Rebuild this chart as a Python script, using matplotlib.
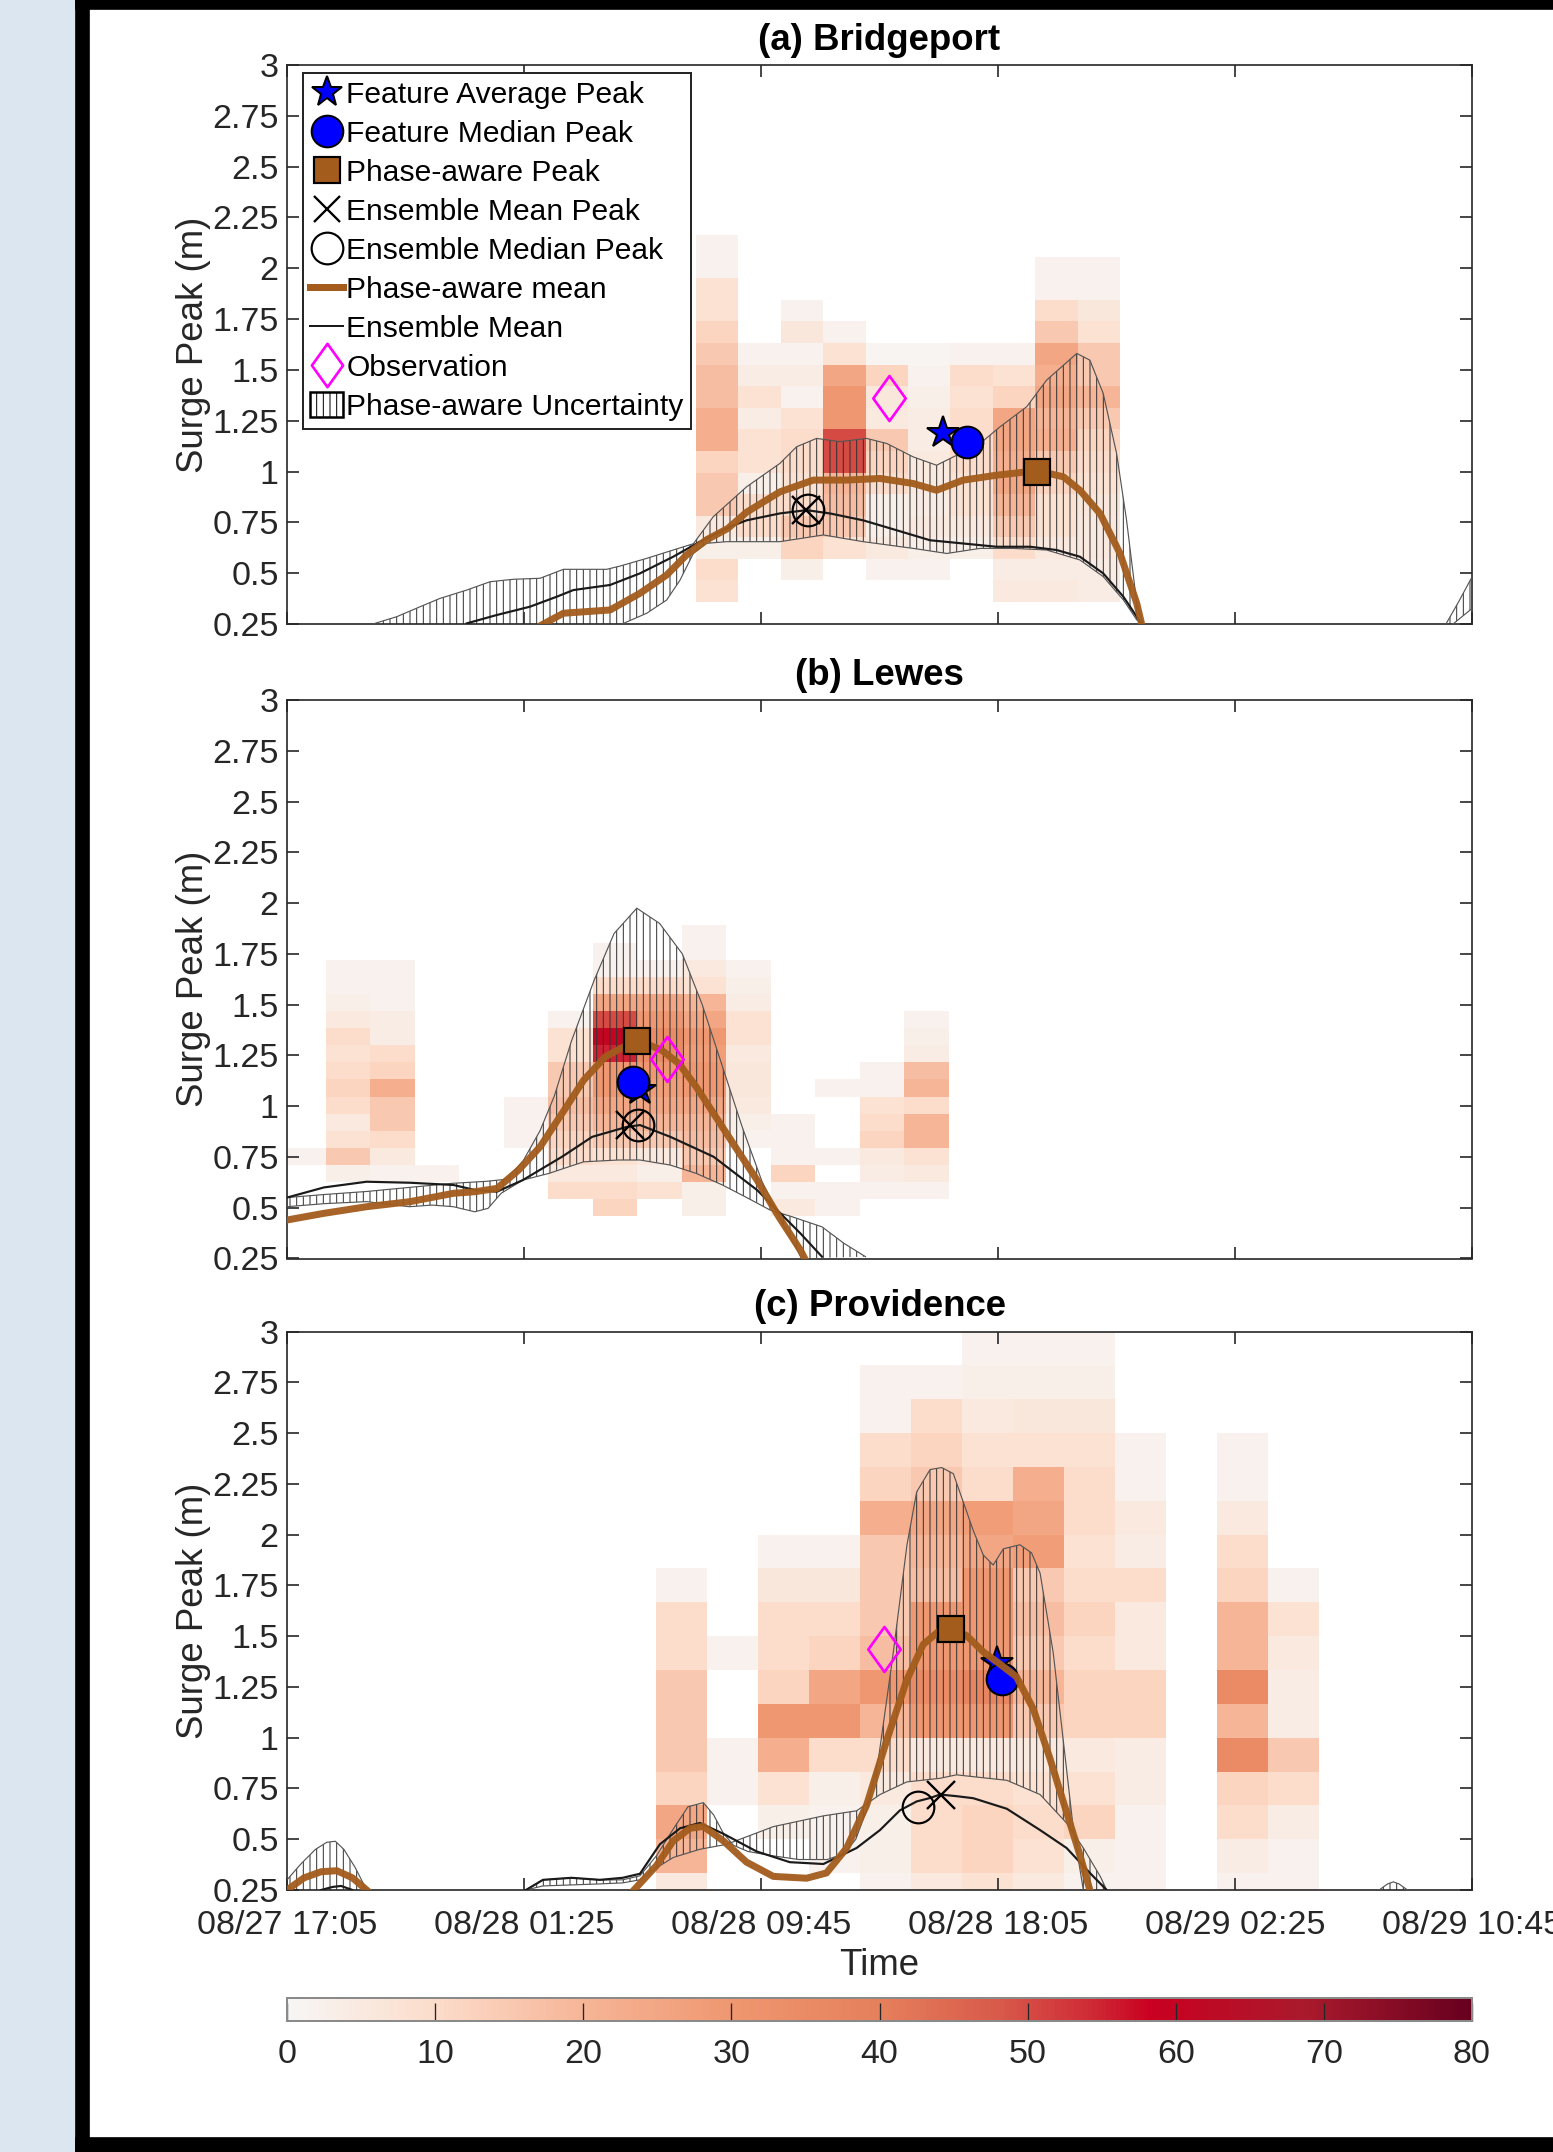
import numpy as np
import matplotlib
matplotlib.use('Agg')
import matplotlib.pyplot as plt
from matplotlib.colors import LinearSegmentedColormap, Normalize
from matplotlib.patches import Rectangle, Patch
from matplotlib.lines import Line2D
from matplotlib.path import Path
from matplotlib.cm import ScalarMappable

plt.rcParams['font.family'] = ['Liberation Sans', 'DejaVu Sans']
plt.rcParams['hatch.linewidth'] = 0.6

# time axis in hours after 08/27 17:05
time_ticks = [0, 8.3333, 16.6667, 25.0, 33.3333, 41.6667]
time_labels = ['08/27 17:05', '08/28 01:25', '08/28 09:45', '08/28 18:05', '08/29 02:25', '08/29 10:45']
y_ticks = [0.25, 0.5, 0.75, 1, 1.25, 1.5, 1.75, 2, 2.25, 2.5, 2.75, 3]
y_labels = ['0.25', '0.5', '0.75', '1', '1.25', '1.5', '1.75', '2', '2.25', '2.5', '2.75', '3']

# ---------------- (a) Bridgeport ----------------
a_xedges = 14.38 + 1.491 * np.arange(11)
a_yedges = 0.358 + 0.1062 * np.arange(18)
a_counts = [  # rows top -> bottom
    [2, 0, 0, 0, 0, 0, 0, 0, 0, 0],
    [2, 0, 0, 0, 0, 0, 0, 0, 2, 2],
    [8, 0, 0, 0, 0, 0, 0, 0, 2, 2],
    [8, 0, 2, 0, 0, 0, 0, 0, 10, 6],
    [12, 0, 6, 2, 0, 0, 0, 0, 15, 8],
    [15, 2, 2, 8, 1, 1, 2, 2, 25, 15],
    [18, 4, 4, 25, 12, 2, 10, 8, 22, 15],
    [18, 8, 2, 30, 6, 3, 8, 12, 25, 20],
    [22, 4, 8, 30, 5, 4, 10, 25, 20, 15],
    [22, 8, 10, 50, 15, 4, 10, 25, 22, 12],
    [12, 8, 10, 50, 12, 5, 10, 22, 15, 10],
    [15, 3, 8, 20, 10, 5, 8, 25, 12, 8],
    [15, 10, 10, 18, 3, 4, 8, 20, 8, 6],
    [5, 10, 15, 15, 3, 5, 5, 15, 8, 5],
    [3, 3, 12, 8, 5, 3, 3, 10, 5, 5],
    [10, 0, 3, 0, 2, 2, 0, 4, 4, 4],
    [8, 0, 0, 0, 0, 0, 0, 5, 5, 4],
]
a_ub_x = [3.09, 3.86, 4.68, 5.38, 6.32, 7.14, 7.96, 8.90, 9.72, 11.24, 11.71, 12.65, 13.58, 14.29, 14.99,
          16.16, 17.33, 17.92, 18.62, 19.44, 20.38, 21.09, 22.02, 22.84, 23.43, 24.37, 25.07, 26.01, 26.71,
          27.77, 28.23, 28.70, 29.17, 29.52, 29.88, 30.10]
a_ub_y = [0.253, 0.286, 0.335, 0.376, 0.417, 0.458, 0.470, 0.475, 0.519, 0.519, 0.535, 0.573, 0.614, 0.645,
          0.778, 0.925, 1.040, 1.122, 1.163, 1.147, 1.163, 1.138, 1.072, 1.031, 1.072, 1.138, 1.220, 1.319,
          1.450, 1.581, 1.548, 1.384, 1.089, 0.761, 0.351, 0.250]
a_lb_x = [3.09, 4.0, 11.0, 11.83, 12.65, 13.35, 13.82, 14.29, 14.76, 15.46, 17.33, 18.86, 20.26, 22.02,
          23.20, 24.37, 25.54, 26.71, 27.88, 28.70, 29.41, 29.88, 30.10]
a_lb_y = [0.240, 0.200, 0.200, 0.253, 0.303, 0.368, 0.466, 0.598, 0.647, 0.655, 0.655, 0.688, 0.655, 0.622,
          0.597, 0.622, 0.622, 0.614, 0.565, 0.483, 0.368, 0.270, 0.250]
a_ub2_x = [40.75, 41.2, 41.7]
a_ub2_y = [0.25, 0.36, 0.49]
a_lb2_x = [41.0, 41.7]
a_lb2_y = [0.25, 0.33]
a_brown_x = [8.95, 9.72, 11.36, 12.41, 13.35, 14.05, 14.76, 15.50, 16.16, 17.33, 18.51, 19.68, 20.85, 22.02,
             22.84, 23.78, 24.95, 26.36, 27.30, 27.88, 28.59, 29.29, 29.88, 30.05]
a_brown_y = [0.245, 0.303, 0.319, 0.401, 0.491, 0.590, 0.665, 0.720, 0.800, 0.900, 0.958, 0.958, 0.966, 0.941,
             0.908, 0.958, 0.982, 1.004, 0.974, 0.908, 0.793, 0.597, 0.351, 0.250]
a_black_x = [6.32, 7.37, 8.54, 9.48, 10.07, 11.36, 12.41, 13.58, 14.52, 15.58, 16.16, 17.33, 18.27, 19.09,
             20.26, 21.44, 22.61, 23.78, 24.95, 26.13, 27.06, 27.88, 28.70, 29.41, 30.05]
a_black_y = [0.253, 0.294, 0.335, 0.384, 0.417, 0.442, 0.499, 0.581, 0.655, 0.729, 0.760, 0.794, 0.810, 0.794,
             0.760, 0.711, 0.662, 0.646, 0.630, 0.630, 0.614, 0.581, 0.499, 0.384, 0.250]
a_pts = dict(feat_avg=(23.08, 1.188), feat_med=(23.9, 1.147), pa_peak=(26.36, 1.0),
             ens_mean=(18.25, 0.81), ens_med=(18.33, 0.81), obs=(21.18, 1.36))

# ---------------- (b) Lewes ----------------
b_xedges = -0.212 + 1.566 * np.arange(16)
b_yedges = 0.457 + 0.0843 * np.arange(18)
b_counts = [
    [0, 0, 0, 0, 0, 0, 0, 0, 0, 2, 0, 0, 0, 0, 0],
    [0, 0, 0, 0, 0, 0, 0, 2, 0, 2, 0, 0, 0, 0, 0],
    [0, 2, 2, 0, 0, 0, 0, 2, 2, 5, 2, 0, 0, 0, 0],
    [0, 2, 2, 0, 0, 0, 0, 10, 10, 8, 3, 0, 0, 0, 0],
    [0, 3, 2, 0, 0, 0, 0, 25, 25, 20, 4, 0, 0, 0, 0],
    [0, 5, 4, 0, 0, 0, 2, 50, 30, 25, 8, 0, 0, 0, 2],
    [0, 10, 4, 0, 0, 0, 8, 60, 35, 30, 8, 0, 0, 0, 3],
    [0, 8, 10, 0, 0, 0, 8, 55, 35, 28, 5, 0, 0, 0, 4],
    [0, 10, 12, 0, 0, 0, 15, 30, 30, 30, 6, 0, 0, 2, 18],
    [0, 12, 22, 0, 0, 0, 15, 30, 28, 30, 6, 0, 2, 2, 20],
    [0, 10, 15, 0, 0, 2, 18, 25, 25, 25, 5, 0, 0, 8, 10],
    [0, 5, 15, 0, 0, 2, 15, 20, 20, 20, 3, 2, 0, 10, 20],
    [0, 8, 10, 0, 0, 2, 12, 15, 15, 18, 2, 2, 0, 12, 20],
    [2, 15, 5, 0, 0, 0, 10, 8, 5, 15, 0, 2, 2, 5, 8],
    [0, 3, 2, 2, 0, 0, 5, 5, 3, 20, 0, 12, 0, 4, 5],
    [0, 0, 0, 0, 0, 0, 10, 10, 8, 3, 0, 2, 2, 2, 2],
    [0, 0, 0, 0, 0, 0, 0, 12, 0, 3, 0, 5, 2, 0, 0],
]
b_ub_x = [0.0, 1.3, 2.8, 4.3, 5.8, 7.0, 7.7, 8.3, 8.9, 9.4, 10.0, 10.8, 11.5, 12.3, 13.1, 13.9, 14.6, 15.3,
          16.0, 16.7, 17.4, 18.1]
b_ub_y = [0.55, 0.565, 0.58, 0.60, 0.62, 0.63, 0.64, 0.73, 0.88, 1.05, 1.32, 1.62, 1.85, 1.975, 1.90, 1.75,
          1.50, 1.20, 0.90, 0.63, 0.43, 0.25]
b_lb_x = [0.0, 1.3, 2.8, 4.3, 5.1, 5.85, 6.6, 7.07, 7.53, 8.29, 9.21, 10.43, 11.65, 12.41, 13.48, 14.39,
          15.31, 16.22, 16.98, 17.75, 18.81, 19.58, 20.34]
b_lb_y = [0.505, 0.52, 0.53, 0.505, 0.513, 0.505, 0.48, 0.497, 0.571, 0.636, 0.669, 0.726, 0.735, 0.735,
          0.71, 0.669, 0.612, 0.546, 0.489, 0.456, 0.406, 0.325, 0.259]
b_brown_x = [-0.02, 1.28, 2.80, 4.33, 5.85, 6.62, 7.38, 8.14, 8.90, 9.67, 10.43, 11.19, 11.95, 12.33, 13.17,
             13.78, 14.39, 15.0, 15.76, 16.53, 17.29, 18.05, 18.20]
b_brown_y = [0.439, 0.472, 0.505, 0.53, 0.571, 0.579, 0.595, 0.685, 0.80, 0.964, 1.128, 1.243, 1.30, 1.325,
             1.276, 1.21, 1.095, 0.964, 0.80, 0.636, 0.456, 0.292, 0.251]
b_black_x = [0.0, 1.3, 2.8, 4.33, 5.85, 6.62, 7.38, 8.29, 9.67, 10.73, 11.95, 12.41, 13.48, 15.0, 16.53,
             18.05, 18.81]
b_black_y = [0.55, 0.60, 0.628, 0.623, 0.612, 0.587, 0.579, 0.636, 0.751, 0.849, 0.898, 0.907, 0.849, 0.751,
             0.587, 0.374, 0.259]
b_pts = dict(feat_avg=(12.4, 1.08), feat_med=(12.18, 1.12), pa_peak=(12.3, 1.32),
             ens_mean=(12.05, 0.905), ens_med=(12.33, 0.905), obs=(13.36, 1.233))

# ---------------- (c) Providence ----------------
c_xedges = 12.97 + 1.794 * np.arange(14)
c_yedges = np.arange(1, 19) / 6.0
c_counts = [
    [0, 0, 0, 0, 0, 0, 2, 2, 2, 0, 0, 0, 0],
    [0, 0, 0, 0, 2, 2, 3, 3, 3, 0, 0, 0, 0],
    [0, 0, 0, 0, 2, 10, 5, 6, 6, 0, 0, 0, 0],
    [0, 0, 0, 0, 10, 12, 8, 8, 8, 2, 0, 2, 0],
    [0, 0, 0, 0, 12, 15, 10, 22, 10, 2, 0, 2, 0],
    [0, 0, 0, 0, 22, 25, 28, 25, 10, 5, 0, 5, 0],
    [0, 0, 2, 2, 15, 20, 25, 28, 8, 4, 0, 10, 0],
    [2, 0, 6, 6, 15, 18, 30, 15, 10, 10, 0, 12, 2],
    [10, 0, 10, 10, 15, 30, 30, 18, 12, 5, 0, 20, 8],
    [10, 2, 10, 12, 18, 30, 30, 15, 10, 5, 0, 20, 5],
    [15, 0, 12, 25, 30, 35, 38, 20, 12, 12, 0, 35, 4],
    [15, 0, 30, 30, 20, 30, 30, 15, 12, 12, 0, 20, 4],
    [15, 2, 22, 10, 10, 5, 5, 5, 5, 4, 0, 35, 15],
    [12, 2, 8, 3, 5, 10, 10, 8, 8, 4, 0, 12, 10],
    [25, 0, 3, 2, 3, 10, 12, 10, 12, 2, 0, 10, 4],
    [20, 0, 0, 2, 3, 10, 12, 8, 3, 2, 0, 4, 2],
    [5, 0, 0, 0, 2, 5, 8, 5, 2, 2, 0, 2, 2],
]
c_ub1_x = [0.0, 0.5, 1.0, 1.4, 1.7, 2.0, 2.4, 2.8]
c_ub1_y = [0.30, 0.38, 0.45, 0.485, 0.49, 0.45, 0.36, 0.25]
c_lb1_x = [0.0, 1.4, 2.8]
c_lb1_y = [0.22, 0.22, 0.22]
c_ub_x = [8.4, 9.0, 10.0, 11.0, 11.8, 12.41, 13.0, 13.58, 14.1, 14.64, 15.0, 15.34, 15.7, 16.2, 17.0, 18.0,
          19.0, 19.6, 20.0, 20.4, 20.8, 21.3, 21.8, 22.14, 22.61, 23.02, 23.43, 23.78, 24.13, 24.48, 24.83,
          25.19, 25.77, 26.18, 26.48, 26.94, 27.3, 27.65, 28.0]
c_ub_y = [0.25, 0.30, 0.31, 0.30, 0.30, 0.32, 0.42, 0.55, 0.66, 0.68, 0.62, 0.53, 0.47, 0.44, 0.42, 0.40,
          0.40, 0.43, 0.50, 0.65, 0.90, 1.40, 1.95, 2.21, 2.32, 2.33, 2.30, 2.16, 2.02, 1.90, 1.85, 1.93,
          1.95, 1.91, 1.81, 1.42, 0.98, 0.55, 0.25]
c_lb_x = [8.4, 9.0, 10.0, 11.0, 11.8, 12.41, 13.0, 13.58, 14.5, 15.46, 17.1, 18.86, 20.03, 20.85, 21.79,
          22.96, 23.54, 24.13, 25.31, 26.48, 27.41, 28.0, 28.6, 28.82]
c_lb_y = [0.25, 0.27, 0.275, 0.28, 0.285, 0.30, 0.36, 0.41, 0.45, 0.475, 0.562, 0.615, 0.64, 0.72, 0.782,
          0.80, 0.817, 0.808, 0.79, 0.72, 0.58, 0.457, 0.316, 0.25]
c_ub3_x = [38.4, 38.7, 38.9, 39.1, 39.4]
c_ub3_y = [0.25, 0.28, 0.29, 0.28, 0.25]
c_lb3_x = [38.4, 39.4]
c_lb3_y = [0.25, 0.25]
c_brown_x = [0.0, 0.6, 1.2, 1.75, 2.3, 2.8, np.nan,
             12.2, 12.99, 13.58, 14.17, 14.64, 15.34, 16.16, 17.10, 18.27, 18.97, 19.68, 20.38, 21.08, 21.79,
             22.37, 22.96, 23.43, 23.90, 24.48, 25.07, 25.65, 26.24, 26.83, 27.41, 27.88, 28.23]
c_brown_y = [0.25, 0.31, 0.34, 0.345, 0.31, 0.25, np.nan,
             0.25, 0.37, 0.492, 0.554, 0.563, 0.492, 0.387, 0.317, 0.308, 0.334, 0.457, 0.668, 0.984, 1.283,
             1.459, 1.529, 1.535, 1.502, 1.423, 1.362, 1.30, 1.142, 0.896, 0.633, 0.422, 0.25]
c_black_x = [1.2, 1.6, 1.9, 2.3, np.nan,
             8.4, 9.0, 10.0, 11.0, 11.8, 12.41, 13.11, 13.82, 14.52, 15.34, 16.51, 17.68, 18.86, 20.03, 20.85,
             21.55, 22.14, 22.61, 22.96, 23.54, 24.13, 25.31, 26.48, 27.41, 28.23, 28.82]
c_black_y = [0.25, 0.265, 0.27, 0.25, np.nan,
             0.25, 0.30, 0.31, 0.30, 0.31, 0.33, 0.475, 0.554, 0.58, 0.527, 0.44, 0.387, 0.378, 0.457, 0.545,
             0.642, 0.686, 0.703, 0.72, 0.712, 0.702, 0.65, 0.545, 0.457, 0.334, 0.25]
c_pts = dict(feat_avg=(24.95, 1.37), feat_med=(25.13, 1.29), pa_peak=(23.35, 1.535),
             ens_mean=(23.0, 0.72), ens_med=(22.2, 0.66), obs=(21.0, 1.436))

# colours
brown = '#a35c1c'
magenta = '#ff00ff'
cmap = LinearSegmentedColormap.from_list('surge', [
    (0.0, '#f7f6f5'), (0.125, '#fcdcca'), (0.25, '#f6b597'), (0.375, '#ef9770'),
    (0.5, '#e5805c'), (0.6, '#d85a4a'), (0.68, '#cf2a36'), (0.73, '#c90020'),
    (0.86, '#aa1a2c'), (1.0, '#67001f')])
norm = Normalize(0, 80)
diamond = Path([(0, 1), (0.72, 0), (0, -1), (-0.72, 0), (0, 1)],
               [Path.MOVETO, Path.LINETO, Path.LINETO, Path.LINETO, Path.CLOSEPOLY])

W, H = 1553, 2152
fig = plt.figure(figsize=(W / 120, H / 120), dpi=120)
fig.patch.set_facecolor('white')
# page frame
fig.patches.append(Rectangle((0, 0), 76 / W, 1, transform=fig.transFigure, color='#dce6f1', zorder=-5))
fig.patches.append(Rectangle((76 / W, 0), 13 / W, 1, transform=fig.transFigure, color='black', zorder=-4))
fig.patches.append(Rectangle((76 / W, 1 - 9 / H), 1, 9 / H, transform=fig.transFigure, color='black', zorder=-4))
fig.patches.append(Rectangle((76 / W, 0), 1, 14 / H, transform=fig.transFigure, color='black', zorder=-4))


def band(ax, ux, uy, lx, ly):
    px = np.concatenate([ux, lx[::-1]])
    py = np.concatenate([uy, ly[::-1]])
    ax.fill(px, py, facecolor='none', edgecolor='#333333', hatch='|||', linewidth=0, zorder=2)
    ax.plot(ux, uy, color='#555555', lw=0.7, zorder=3)
    ax.plot(lx, ly, color='#555555', lw=0.7, zorder=3)


def panel(rect, title, xe, ye, counts, bands, bx, by, kx, ky, pts, xlabels):
    ax = fig.add_axes(rect)
    c = np.flipud(np.array(counts, dtype=float))
    ax.pcolormesh(xe, ye, np.ma.masked_equal(c, 0), cmap=cmap, norm=norm, zorder=1)
    for ux, uy, lx, ly in bands:
        band(ax, ux, uy, lx, ly)
    ax.plot(kx, ky, color='#1a1a1a', lw=1.3, zorder=4)
    ax.plot(*pts['feat_avg'], marker='*', ms=20, mfc='blue', mec='black', mew=1.2, zorder=5)
    ax.plot(*pts['feat_med'], marker='o', ms=19, mfc='blue', mec='black', mew=1.2, zorder=6)
    ax.plot(bx, by, color=brown, lw=4.2, zorder=7, alpha=0.95)
    ax.plot(*pts['pa_peak'], marker='s', ms=16, mfc=brown, mec='black', mew=1.3, zorder=8)
    ax.plot(*pts['ens_mean'], marker='x', ms=17, mec='black', mew=1.4, zorder=8)
    ax.plot(*pts['ens_med'], marker='o', ms=19, mfc='none', mec='black', mew=1.3, zorder=8)
    ax.plot(*pts['obs'], marker=diamond, ms=27, mfc='none', mec=magenta, mew=1.6, zorder=9)
    ax.set_xlim(0, 41.6667)
    ax.set_ylim(0.25, 3)
    ax.set_yticks(y_ticks)
    ax.set_yticklabels(y_labels)
    ax.set_xticks(time_ticks)
    if xlabels:
        ax.set_xticklabels(time_labels)
    else:
        ax.set_xticklabels([])
    ax.tick_params(direction='in', length=7, width=1, top=True, right=True, labelsize=20.4,
                   pad=5, colors='#262626')
    ax.tick_params(axis='x', pad=12)
    for s in ax.spines.values():
        s.set_color('#262626')
        s.set_linewidth(1.0)
    ax.set_title(title, fontsize=22, fontweight='bold', pad=9)
    ax.set_ylabel('Surge Peak (m)', fontsize=22, labelpad=1, color='#262626')
    return ax


L, Wd = 287 / W, 1185 / W
ax_a = panel([L, 1 - 624 / H, Wd, 559 / H], '(a) Bridgeport', a_xedges, a_yedges, a_counts,
             [(a_ub_x, a_ub_y, a_lb_x, a_lb_y), (a_ub2_x, a_ub2_y, a_lb2_x, a_lb2_y)],
             a_brown_x, a_brown_y, a_black_x, a_black_y, a_pts, False)
ax_b = panel([L, 1 - 1258.5 / H, Wd, 558.5 / H], '(b) Lewes', b_xedges, b_yedges, b_counts,
             [(b_ub_x, b_ub_y, b_lb_x, b_lb_y)],
             b_brown_x, b_brown_y, b_black_x, b_black_y, b_pts, False)
ax_c = panel([L, 1 - 1890 / H, Wd, 558.5 / H], '(c) Providence', c_xedges, c_yedges, c_counts,
             [(c_ub1_x, c_ub1_y, c_lb1_x, c_lb1_y), (c_ub_x, c_ub_y, c_lb_x, c_lb_y),
              (c_ub3_x, c_ub3_y, c_lb3_x, c_lb3_y)],
             c_brown_x, c_brown_y, c_black_x, c_black_y, c_pts, True)
ax_c.set_xlabel('Time', fontsize=22, labelpad=4, color='#262626')

handles = [
    Line2D([], [], ls='none', marker='*', ms=19, mfc='blue', mec='black', mew=1.2),
    Line2D([], [], ls='none', marker='o', ms=19, mfc='blue', mec='black', mew=1.2),
    Line2D([], [], ls='none', marker='s', ms=16, mfc=brown, mec='black', mew=1.3),
    Line2D([], [], ls='none', marker='x', ms=16, mec='black', mew=1.4),
    Line2D([], [], ls='none', marker='o', ms=19, mfc='none', mec='black', mew=1.3),
    Line2D([], [], color=brown, lw=4.2),
    Line2D([], [], color='#1a1a1a', lw=1.2),
    Line2D([], [], ls='none', marker=diamond, ms=26, mfc='none', mec=magenta, mew=1.6),
    Patch(facecolor='white', edgecolor='black', hatch='|||', lw=1.5),
]
labels = ['Feature Average Peak', 'Feature Median Peak', 'Phase-aware Peak', 'Ensemble Mean Peak',
          'Ensemble Median Peak', 'Phase-aware mean', 'Ensemble Mean', 'Observation',
          'Phase-aware Uncertainty']
leg = ax_a.legend(handles, labels, loc='upper left', bbox_to_anchor=(0.0135, 0.9857), borderaxespad=0,
                  fontsize=18, handlelength=1.1, handleheight=0.9, handletextpad=0.1, labelspacing=0.34,
                  borderpad=0.25, fancybox=False, edgecolor='#262626', framealpha=1, numpoints=1)
leg.get_frame().set_linewidth(1.2)
leg.set_zorder(20)

# colour bar
cax = fig.add_axes([L, 1 - 2021 / H, Wd, 23 / H])
cb = fig.colorbar(ScalarMappable(norm=norm, cmap=cmap), cax=cax, orientation='horizontal',
                  ticks=list(range(0, 81, 10)))
cb.ax.tick_params(direction='in', length=11, width=0.8, labelsize=20.4, pad=11, colors='#262626')
cb.outline.set_edgecolor('#8a8a8a')
cb.outline.set_linewidth(1.2)

fig.savefig('out.png', dpi=120)
